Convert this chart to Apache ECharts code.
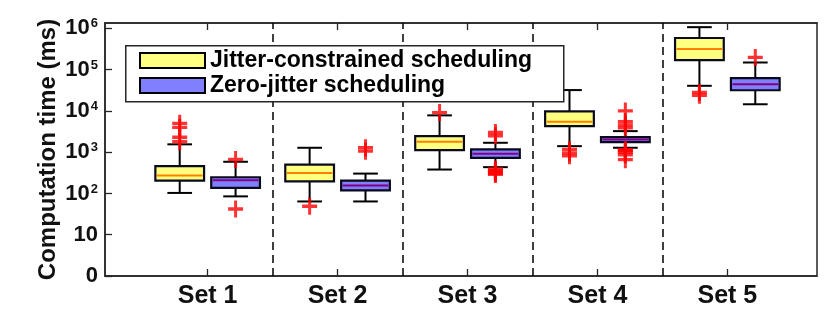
<!DOCTYPE html>
<html>
<head>
<meta charset="utf-8">
<script src="https://cdn.jsdelivr.net/npm/echarts@6/dist/echarts.min.js"></script>
<style>
html,body{margin:0;padding:0;background:#fff;}
#chart{width:830px;height:311px;}
</style>
</head>
<body>
<div id="chart"></div>
<script>
// ---- data ----
const categories = ['Set 1', 'Set 2', 'Set 3', 'Set 4', 'Set 5'];
const seriesNames = ['Jitter-constrained scheduling', 'Zero-jitter scheduling'];
// [lower whisker, Q1, median, Q3, upper whisker]
const jitterStats = [
  [103, 205, 271, 457, 1550],
  [64, 197, 315, 500, 1280],
  [380, 1120, 1780, 2450, 7800],
  [1400, 4300, 5500, 9800, 32000],
  [40600, 170000, 315000, 585000, 1070000]
];
const jitterOutliers = [
  [5000, 4000, 2300, 1800],
  [49],
  [9100],
  [1170, 960, 820],
  [28000, 24000]
];
const zeroStats = [
  [85, 136, 208, 247, 586],
  [64, 119, 155, 205, 303],
  [434, 730, 915, 1170, 1690],
  [1280, 1750, 2030, 2330, 3240],
  [14500, 31700, 44500, 62000, 149000]
];
const zeroOutliers = [
  [665, 42],
  [1280, 1060],
  [3000, 2500, 390, 360, 330, 310, 290],
  [10000, 5500, 4600, 3900, 1150, 1080, 1000, 870, 660],
  [198000]
];
const yTickValues = [1, 10, 100, 1000, 10000, 100000, 1000000];
const separators = [1.5, 2.5, 3.5, 4.5];

// ---- layout / style ----
const OFF = 0.215, BOX_W = 0.375, CAP_W = 0.19;
const FONT = '"Liberation Sans", Arial, Helvetica, sans-serif';
const AX = '#262626';

function boxRenderer(offset, fill, medColor) {
  return function (params, api) {
    const x = api.value(0) + offset;
    const lo = api.coord([x, api.value(1)]);
    const q1 = api.coord([x, api.value(2)]);
    const md = api.coord([x, api.value(3)]);
    const q3 = api.coord([x, api.value(4)]);
    const hi = api.coord([x, api.value(5)]);
    const cx = lo[0];
    const bl = api.coord([x - BOX_W / 2, api.value(3)])[0];
    const br = api.coord([x + BOX_W / 2, api.value(3)])[0];
    const cl = api.coord([x - CAP_W / 2, api.value(3)])[0];
    const cr = api.coord([x + CAP_W / 2, api.value(3)])[0];
    const ls = { stroke: '#000', lineWidth: 2 };
    return {
      type: 'group',
      children: [
        { type: 'line', shape: { x1: cx, y1: hi[1], x2: cx, y2: q3[1] }, style: ls },
        { type: 'line', shape: { x1: cx, y1: q1[1], x2: cx, y2: lo[1] }, style: ls },
        { type: 'line', shape: { x1: cl, y1: hi[1], x2: cr, y2: hi[1] }, style: ls },
        { type: 'line', shape: { x1: cl, y1: lo[1], x2: cr, y2: lo[1] }, style: ls },
        { type: 'rect', shape: { x: bl, y: q3[1], width: br - bl, height: q1[1] - q3[1] },
          style: { fill: fill, stroke: '#0a0a1e', lineWidth: 2.2 } },
        { type: 'line', shape: { x1: bl + 1.5, y1: md[1], x2: br - 1.5, y2: md[1] },
          style: { stroke: medColor, lineWidth: 2 } }
      ]
    };
  };
}

const plusPath = 'path://M4,0h2v4h4v2h-4v4h-2v-4h-4v-2h4z';

const chart = echarts.init(document.getElementById('chart'), null, { renderer: 'canvas' });
chart.setOption({
  animation: false,
  backgroundColor: '#fff',
  textStyle: { fontFamily: FONT },
  grid: { left: 105, right: 13, top: 23, bottom: 35, show: true, borderColor: AX, borderWidth: 1.5, backgroundColor: 'transparent' },
  xAxis: [{
    type: 'value', min: 0.21, max: 5.69, position: 'bottom',
    splitLine: { show: false },
    axisLine: { show: true, onZero: false, lineStyle: { color: AX, width: 1.5 } },
    axisTick: { show: true, inside: true, length: 7, lineStyle: { color: AX, width: 1.3 }, customValues: [1, 2, 3, 4, 5] },
    axisLabel: { show: true, customValues: [1, 2, 3, 4, 5], margin: 8,
      formatter: v => categories[Math.round(v) - 1] || '',
      fontSize: 25, fontWeight: 'bold', color: '#111', fontFamily: FONT }
  }, {
    type: 'value', min: 0.21, max: 5.69, position: 'top',
    splitLine: { show: false },
    axisLine: { show: true, onZero: false, lineStyle: { color: AX, width: 1.5 } },
    axisTick: { show: true, inside: true, length: 7, lineStyle: { color: AX, width: 1.3 }, customValues: [1, 2, 3, 4, 5] },
    axisLabel: { show: false }
  }],
  yAxis: {
    type: 'log', logBase: 10, min: 1, max: 1350000,
    name: 'Computation time (ms)', nameLocation: 'middle', nameGap: 45, nameMoveOverlap: false,
    nameTextStyle: { fontSize: 24, fontWeight: 'bold', color: '#111', fontFamily: FONT },
    splitLine: { show: false },
    axisLine: { show: true, lineStyle: { color: AX, width: 1.5 } },
    axisTick: { show: true, inside: true, length: 7, lineStyle: { color: AX, width: 1.3 }, customValues: yTickValues },
    axisLabel: {
      customValues: yTickValues, margin: 7, color: '#111',
      formatter: function (v) {
        const e = Math.round(Math.log10(v));
        if (e === 0) return '{b|0}';
        if (e === 1) return '{b|10}';
        return '{b|10}{s|' + e + '}';
      },
      rich: {
        b: { fontSize: 22, fontWeight: 'bold', color: '#111', fontFamily: FONT },
        s: { fontSize: 13, fontWeight: 'bold', color: '#111', fontFamily: FONT, verticalAlign: 'top', padding: [0, 0, 9, 1] }
      }
    }
  },
  legend: {
    orient: 'vertical', left: 139, top: 49, z: 20,
    data: seriesNames,
    icon: 'rect', itemWidth: 65, itemHeight: 15, itemGap: 2,
    itemStyle: { borderColor: '#000', borderWidth: 2 },
    textStyle: { fontSize: 23, fontWeight: 'bold', color: '#000', fontFamily: FONT, lineHeight: 22 },
    padding: 0
  },
  graphic: [{
    type: 'rect', left: 125, top: 45, z: 15,
    shape: { width: 438, height: 56 },
    style: { fill: '#fff', stroke: AX, lineWidth: 1.5 }
  }],
  series: [{
    name: seriesNames[0], type: 'custom', z: 3,
    itemStyle: { color: '#ffff80' },
    renderItem: boxRenderer(-OFF, '#ffff80', '#ff8000'),
    encode: { x: 0, y: [1, 2, 3, 4, 5] },
    data: jitterStats.map((s, i) => [i + 1].concat(s)),
    markLine: {
      silent: true, symbol: 'none', label: { show: false }, z: 2,
      lineStyle: { color: '#000', type: [8, 5], width: 1.5 },
      data: separators.map(x => ({ xAxis: x }))
    }
  }, {
    name: seriesNames[1], type: 'custom', z: 3,
    itemStyle: { color: '#8080ff' },
    renderItem: boxRenderer(OFF, '#8080ff', '#800080'),
    encode: { x: 0, y: [1, 2, 3, 4, 5] },
    data: zeroStats.map((s, i) => [i + 1].concat(s))
  }, {
    name: 'jitter-outliers', type: 'scatter', z: 5,
    symbol: plusPath, symbolSize: [15, 17],
    itemStyle: { color: '#ff0000' },
    data: jitterOutliers.flatMap((arr, i) => arr.map(v => [i + 1 - OFF, v]))
  }, {
    name: 'zero-outliers', type: 'scatter', z: 5,
    symbol: plusPath, symbolSize: [15, 17],
    itemStyle: { color: '#ff0000' },
    data: zeroOutliers.flatMap((arr, i) => arr.map(v => [i + 1 + OFF, v]))
  }]
});
</script>
</body>
</html>
